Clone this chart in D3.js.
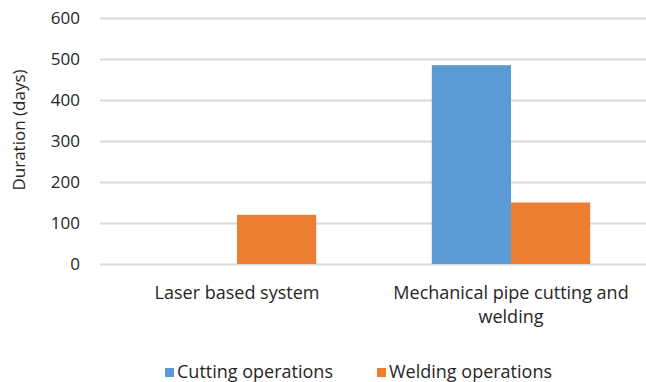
<!DOCTYPE html>
<html>
<head>
<meta charset="utf-8">
<script src="https://cdn.jsdelivr.net/npm/d3@7"></script>
<style>
  body { margin: 0; background: #fff; }
  text { font-family: "Open Sans", sans-serif; fill: #262626; }
</style>
</head>
<body>
<svg id="chart" width="646" height="382"></svg>
<script>
let categories = ["Laser based system", "Mechanical pipe cutting and welding"]
let seriesNames = ["Cutting operations", "Welding operations"]
let cutting = [0, 485]
let welding = [120, 150]
let yTicks = [0, 100, 200, 300, 400, 500, 600]

let colors = ["#5b9bd5", "#ed7d31"]
let width = 646
let height = 382
let margin = { top: 18, right: -2, bottom: 118, left: 100 }
let svg = d3.select("#chart")

let data = categories.map((c, i) => ({ cat: c, values: [cutting[i], welding[i]] }))

let x = d3.scaleBand()
    .domain(categories)
    .range([margin.left, width - margin.right])

let x1 = d3.scaleBand()
    .domain(seriesNames)
    .range([0, x.bandwidth()])
    .paddingInner(0)
    .paddingOuter(0.73)

let y = d3.scaleLinear()
    .domain([0, 600])
    .range([height - margin.bottom, margin.top])

// gridlines
let yAxis = svg.append("g")
    .attr("transform", `translate(${margin.left},0)`)
    .call(d3.axisLeft(y).tickValues(yTicks).tickSize(-(width - margin.left)).tickPadding(20))

yAxis.select(".domain").remove()
yAxis.selectAll("line").style("stroke", "#d9d9d9").style("stroke-width", 2)
yAxis.selectAll("text").style("font-size", "17px").style("fill", "#262626")

let groups = svg.append("g")
  .selectAll("g")
  .data(data)
  .join("g")
  .attr("transform", d => `translate(${x(d.cat)},0)`)

groups.selectAll("rect")
  .data(d => d.values.map((v, i) => ({ name: seriesNames[i], value: v, i: i })))
  .join("rect")
  .attr("x", d => x1(d.name))
  .attr("y", d => y(d.value))
  .attr("width", x1.bandwidth())
  .attr("height", d => y(0) - y(d.value))
  .style("fill", d => colors[d.i])

// category labels, wrapped like the original
let catLines = [["Laser based system"], ["Mechanical pipe cutting and", "welding"]]
categories.forEach((c, i) => {
  let t = svg.append("text")
    .attr("text-anchor", "middle")
    .attr("x", x(c) + x.bandwidth() / 2)
    .attr("y", 299)
    .style("font-size", "18px")
  catLines[i].forEach((ln, j) => {
    t.append("tspan")
      .attr("x", x(c) + x.bandwidth() / 2)
      .attr("dy", j == 0 ? 0 : 24)
      .text(ln)
  })
})

svg.append("text")
  .attr("text-anchor", "middle")
  .attr("transform", "translate(25,130) rotate(-90)")
  .style("font-size", "17px")
  .text("Duration (days)")

// legend
let legendX = [165, 377]
seriesNames.forEach((s, i) => {
  svg.append("rect")
    .attr("x", legendX[i])
    .attr("y", 368)
    .attr("width", 9)
    .attr("height", 9)
    .style("fill", colors[i])
  svg.append("text")
    .attr("x", legendX[i] + 12)
    .attr("y", 378)
    .style("font-size", "18px")
    .text(s)
})
</script>
</body>
</html>
